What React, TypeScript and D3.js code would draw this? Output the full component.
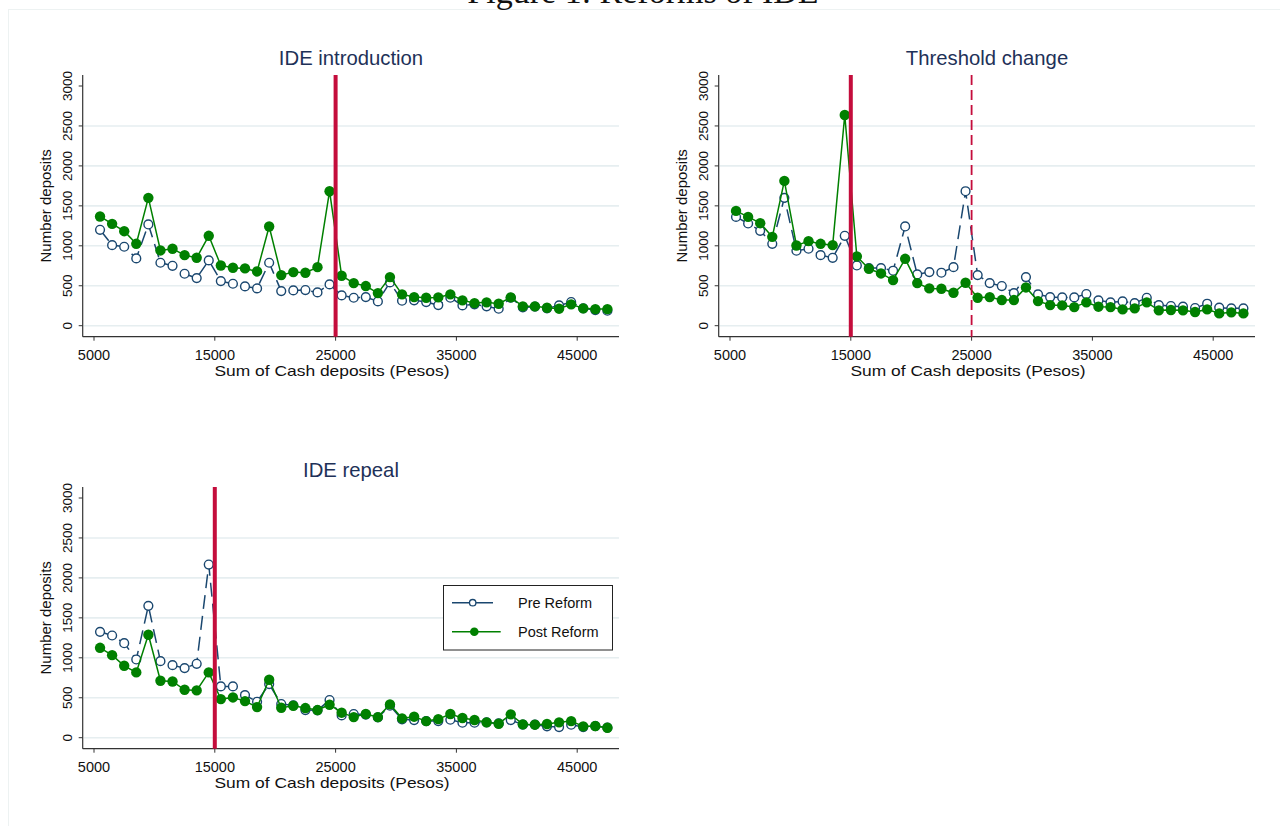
import React from 'react';
import * as d3 from 'd3';

// bin centers (pesos)
const binCenters = [
  5500, 6500, 7500, 8500, 9500, 10500, 11500, 12500, 13500, 14500,
  15500, 16500, 17500, 18500, 19500, 20500, 21500, 22500, 23500, 24500,
  25500, 26500, 27500, 28500, 29500, 30500, 31500, 32500, 33500, 34500,
  35500, 36500, 37500, 38500, 39500, 40500, 41500, 42500, 43500, 44500,
  45500, 46500, 47500,
];

const introPre = [
  1200, 1008, 988, 842, 1267, 788, 750, 650, 596, 817,
  558, 525, 492, 467, 788, 433, 442, 446, 417, 517,
  379, 350, 358, 304, 542, 313, 317, 296, 258, 350,
  254, 267, 242, 213, 350, 229, 238, 217, 254, 296,
  217, 196, 188,
];
const introPost = [
  1367, 1275, 1183, 1025, 1600, 942, 963, 883, 850, 1125,
  754, 725, 717, 679, 1242, 633, 671, 663, 733, 1683,
  625, 533, 496, 408, 608, 392, 358, 350, 354, 392,
  317, 283, 292, 275, 354, 242, 242, 225, 213, 267,
  217, 208, 208,
];
const thresholdPre = [
  1362, 1279, 1188, 1025, 1600, 938, 963, 883, 850, 1125,
  754, 721, 721, 688, 1242, 642, 671, 663, 733, 1683,
  633, 533, 496, 408, 608, 392, 358, 354, 354, 396,
  317, 292, 304, 283, 350, 258, 246, 238, 221, 275,
  225, 217, 217,
];
const thresholdPost = [
  1437, 1362, 1283, 1112, 1812, 1004, 1058, 1025, 1008, 2637,
  867, 712, 654, 571, 837, 533, 467, 463, 412, 537,
  350, 358, 321, 321, 479, 308, 258, 254, 233, 292,
  238, 233, 204, 217, 292, 192, 196, 192, 171, 204,
  154, 167, 154,
];
const repealPre = [
  1325, 1279, 1183, 979, 1650, 958, 908, 871, 925, 2167,
  642, 642, 533, 450, 671, 421, 404, 346, 342, 471,
  279, 296, 290, 254, 400, 229, 221, 208, 208, 225,
  188, 188, 192, 179, 221, 163, 163, 142, 133, 163,
  133, 146, 125,
];
const repealPost = [
  1125, 1033, 900, 817, 1288, 713, 704, 600, 592, 817,
  483, 504, 458, 383, 725, 375, 400, 371, 346, 413,
  313, 258, 296, 258, 417, 242, 263, 208, 233, 296,
  246, 221, 192, 175, 292, 167, 163, 171, 192, 208,
  142, 146, 125,
];

const xTicks = [5000, 15000, 25000, 35000, 45000];
const yTicks = [0, 500, 1000, 1500, 2000, 2500, 3000];
const gridTicks = [0, 500, 1000, 1500, 2000, 2500];
const legendLabels = ['Pre Reform', 'Post Reform'];

const FONT = '"Liberation Sans", Arial, Helvetica, sans-serif';
const NAVY = '#1a476f';
const GREEN = '#008000';
const RED = '#c40d3c';
const TITLE = '#1e3158';
const GRID = '#e6eef0';

const panels = [
  { title: 'IDE introduction', pre: introPre, post: introPost, solid: [25000], dashed: [] as number[], dx: 0, dy: 0, legend: false },
  { title: 'Threshold change', pre: thresholdPre, post: thresholdPost, solid: [15000], dashed: [25000], dx: 636, dy: 0, legend: false },
  { title: 'IDE repeal', pre: repealPre, post: repealPost, solid: [15000], dashed: [] as number[], dx: 0, dy: 412, legend: true },
];

type PanelProps = { p: typeof panels[number] };

function Panel({ p }: PanelProps) {
  const axisX = 82.7;
  const axisY = 336.7;
  const right = 619;
  const top = 75;
  const x = d3.scaleLinear().domain([5000, 45000]).range([94, 577.2]);
  const y = d3.scaleLinear().domain([0, 3000]).range([325.7, 86]);
  const line = d3.line<number>().x((_, i) => x(binCenters[i])).y(d => y(d));

  return (
    <g transform={`translate(${p.dx},${p.dy})`} fontFamily={FONT}>
      {gridTicks.map(t => (
        <line key={'g' + t} x1={axisX + 1} x2={right} y1={y(t)} y2={y(t)} stroke={GRID} strokeWidth={1.6} />
      ))}
      <text x={351} y={65} textAnchor="middle" fontSize={20.3} fill={TITLE}>{p.title}</text>

      {/* axes */}
      <line x1={axisX} x2={axisX} y1={top} y2={axisY} stroke="#333" strokeWidth={1.2} />
      <line x1={axisX} x2={right} y1={axisY} y2={axisY} stroke="#333" strokeWidth={1.2} />
      {yTicks.map(t => (
        <g key={'y' + t}>
          <line x1={axisX - 4} x2={axisX} y1={y(t)} y2={y(t)} stroke="#333" strokeWidth={1} />
          <text transform={`translate(71.5,${y(t)}) rotate(-90)`} textAnchor="middle" fontSize={13.5} fill="#111">{t}</text>
        </g>
      ))}
      {xTicks.map(t => (
        <g key={'x' + t}>
          <line x1={x(t)} x2={x(t)} y1={axisY} y2={axisY + 4} stroke="#333" strokeWidth={1} />
          <text x={x(t)} y={359.5} textAnchor="middle" fontSize={14.5} fill="#111">{t}</text>
        </g>
      ))}
      <text transform={`translate(51,${(y(0) + y(3000)) / 2}) rotate(-90)`} textAnchor="middle" fontSize={15} fill="#111">Number deposits</text>
      <text x={332} y={376} textAnchor="middle" fontSize={15} textLength={235} lengthAdjust="spacingAndGlyphs" fill="#111">Sum of Cash deposits (Pesos)</text>

      {/* pre reform */}
      <path d={line(p.pre) || ''} fill="none" stroke={NAVY} strokeWidth={1.5} strokeDasharray="14 7" />
      {p.pre.map((v, i) => (
        <circle key={'pre' + i} cx={x(binCenters[i])} cy={y(v)} r={4.4} fill="#fff" stroke={NAVY} strokeWidth={1.4} />
      ))}
      {/* post reform */}
      <path d={line(p.post) || ''} fill="none" stroke={GREEN} strokeWidth={1.5} />
      {p.post.map((v, i) => (
        <circle key={'post' + i} cx={x(binCenters[i])} cy={y(v)} r={5.2} fill={GREEN} />
      ))}

      {/* reform thresholds */}
      {p.solid.map(t => (
        <line key={'s' + t} x1={x(t)} x2={x(t)} y1={top} y2={axisY} stroke={RED} strokeWidth={4} />
      ))}
      {p.dashed.map(t => (
        <line key={'d' + t} x1={x(t)} x2={x(t)} y1={top} y2={axisY} stroke={RED} strokeWidth={1.8} strokeDasharray="10 5" />
      ))}

      {p.legend && (
        <g>
          <rect x={443.5} y={585.5 - p.dy} width={169} height={64.5} fill="#fff" stroke="#222" strokeWidth={1} />
          <line x1={452} x2={493} y1={602.7 - p.dy} y2={602.7 - p.dy} stroke={NAVY} strokeWidth={1.5} />
          <circle cx={472.7} cy={602.7 - p.dy} r={3.2} fill="#fff" stroke={NAVY} strokeWidth={1.3} />
          <text x={518} y={607.8 - p.dy} fontSize={14.5} fill="#111">{legendLabels[0]}</text>
          <line x1={452} x2={500.7} y1={631.7 - p.dy} y2={631.7 - p.dy} stroke={GREEN} strokeWidth={1.5} />
          <circle cx={474.3} cy={631.7 - p.dy} r={4.3} fill={GREEN} />
          <text x={518} y={636.8 - p.dy} fontSize={14.5} fill="#111">{legendLabels[1]}</text>
        </g>
      )}
    </g>
  );
}

export default function App() {
  return (
    <svg width={1280} height={826} viewBox="0 0 1280 826" style={{ position: 'absolute', left: 0, top: 0, background: '#fff' }}>
      <rect x={0} y={0} width={1280} height={826} fill="#fff" />
      <rect x={8.5} y={9.5} width={1300} height={900} fill="none" stroke="#edf2f2" strokeWidth={1} />
      <text x={643} y={3} textAnchor="middle" fontSize={34} fontFamily='"Liberation Serif", "DejaVu Serif", serif' fill="#111">Figure 1: Reforms of IDE</text>
      {panels.map(p => <Panel key={p.title} p={p} />)}
    </svg>
  );
}
